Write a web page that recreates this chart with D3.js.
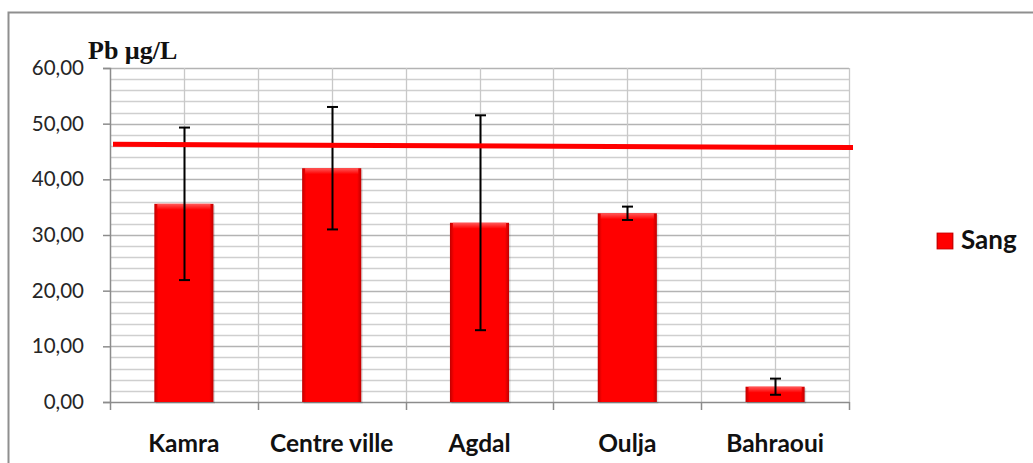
<!DOCTYPE html>
<html>
<head>
<meta charset="utf-8">
<script src="https://cdn.jsdelivr.net/npm/d3@7"></script>
<style>
  body { margin: 0; background: #fff; }
  svg { display: block; }
</style>
</head>
<body>
<div id="chart"></div>
<script>
// data
const sites = ['Kamra', 'Centre ville', 'Agdal', 'Oulja', 'Bahraoui'];
const sangMeans = [35.6, 42.0, 32.2, 33.9, 2.75];
const sangErrors = [13.7, 11.0, 19.3, 1.2, 1.45];
const limitLine = [46.3, 45.7]; // red reference line, left end / right end
const yTicks = [0, 10, 20, 30, 40, 50, 60];
const minorTicks = d3.range(0, 61, 2);

const W = 1033, H = 463;
const plot = { left: 110, right: 849, top: 68, bottom: 402 };

const svg = d3.select('#chart').append('svg')
    .attr('width', W)
    .attr('height', H);

const defs = svg.append('defs');
const grad = defs.append('linearGradient').attr('id', 'barGrad')
    .attr('x1', '0%').attr('x2', '100%').attr('y1', '0%').attr('y2', '0%');
grad.append('stop').attr('offset', '0%').attr('stop-color', '#c00000');
grad.append('stop').attr('offset', '7%').attr('stop-color', '#ff0000');
grad.append('stop').attr('offset', '93%').attr('stop-color', '#ff0000');
grad.append('stop').attr('offset', '100%').attr('stop-color', '#c00000');
const topGrad = defs.append('linearGradient').attr('id', 'topGrad')
    .attr('x1', '0%').attr('x2', '0%').attr('y1', '0%').attr('y2', '100%');
topGrad.append('stop').attr('offset', '0%').attr('stop-color', '#ff5a5a');
topGrad.append('stop').attr('offset', '100%').attr('stop-color', '#ff0000');

// outer frame (only top and left visible in the crop)
svg.append('path')
    .attr('d', `M 8.5 463 L 8.5 12.5 L ${W} 12.5`)
    .attr('fill', 'none')
    .attr('stroke', '#8f8f8f')
    .attr('stroke-width', 2);

const x = d3.scaleBand()
    .domain(sites)
    .range([plot.left, plot.right])
    .padding(0);

const y = d3.scaleLinear()
    .domain([0, 60])
    .range([plot.bottom, plot.top]);

// minor horizontal grid
svg.append('g').selectAll('line')
    .data(minorTicks.filter(d => d % 10 !== 0))
    .join('line')
    .attr('x1', plot.left).attr('x2', plot.right)
    .attr('y1', d => Math.round(y(d)) + 0.5).attr('y2', d => Math.round(y(d)) + 0.5)
    .attr('stroke', '#cfcfcf')
    .attr('stroke-width', 1.3);

// major horizontal grid
svg.append('g').selectAll('line')
    .data(yTicks.filter(d => d > 0))
    .join('line')
    .attr('x1', plot.left).attr('x2', plot.right)
    .attr('y1', d => Math.round(y(d)) + 0.5).attr('y2', d => Math.round(y(d)) + 0.5)
    .attr('stroke', '#b3b3b3')
    .attr('stroke-width', 1.6);

// vertical grid: category boundaries and centres
const vLines = [];
sites.forEach(s => {
    vLines.push(x(s));
    vLines.push(x(s) + x.bandwidth() / 2);
});
vLines.push(plot.right);
svg.append('g').selectAll('line')
    .data(vLines.slice(1))
    .join('line')
    .attr('x1', d => Math.round(d) + 0.5).attr('x2', d => Math.round(d) + 0.5)
    .attr('y1', plot.top).attr('y2', plot.bottom)
    .attr('stroke', '#c8c8c8')
    .attr('stroke-width', 1.3);

// axes
const yAxis = svg.append('g')
    .attr('transform', `translate(${plot.left},0)`)
    .call(d3.axisLeft(y).tickValues(yTicks).tickSize(7).tickPadding(19)
        .tickFormat(d => d3.format('.2f')(d).replace('.', ',')));
yAxis.select('.domain').attr('stroke', '#8c8c8c').attr('stroke-width', 1.5);
yAxis.selectAll('.tick line').attr('stroke', '#8c8c8c').attr('stroke-width', 1.5);
yAxis.selectAll('.tick text')
    .attr('fill', '#262626')
    .style('font-family', 'Lato, "Open Sans", sans-serif')
    .style('font-size', '20.5px');

const xAxis = svg.append('g')
    .attr('transform', `translate(0,${plot.bottom})`)
    .call(d3.axisBottom(x).tickSize(0).tickPadding(33));
xAxis.select('.domain').attr('stroke', '#8c8c8c').attr('stroke-width', 1.5);
xAxis.selectAll('.tick text')
    .attr('fill', '#111')
    .style('font-family', 'Lato, "Open Sans", sans-serif')
    .style('font-weight', 'bold')
    .style('font-size', '24.5px');
// boundary ticks below the axis
xAxis.append('g').selectAll('line')
    .data(sites.map(s => x(s)).concat([plot.right]))
    .join('line')
    .attr('x1', d => Math.round(d) + 0.5).attr('x2', d => Math.round(d) + 0.5)
    .attr('y1', 0).attr('y2', 8)
    .attr('stroke', '#8c8c8c')
    .attr('stroke-width', 1.5);

// bars
const barW = x.bandwidth() * 0.4;
const bars = svg.append('g');
sites.forEach((s, i) => {
    const cx = x(s) + x.bandwidth() / 2;
    const top = y(sangMeans[i]);
    bars.append('rect')
        .attr('x', cx - barW / 2 + 1.5).attr('y', top + 1.5)
        .attr('width', barW).attr('height', plot.bottom - top)
        .attr('fill', '#000').attr('opacity', 0.12);
    bars.append('rect')
        .attr('x', cx - barW / 2).attr('y', top)
        .attr('width', barW).attr('height', plot.bottom - top)
        .attr('fill', 'url(#barGrad)');
    bars.append('rect')
        .attr('x', cx - barW / 2 + 3).attr('y', top)
        .attr('width', barW - 6).attr('height', Math.min(6, plot.bottom - top))
        .attr('fill', 'url(#topGrad)');
});

// error bars
const errG = svg.append('g')
    .attr('stroke', '#000')
    .attr('stroke-width', 2);
sites.forEach((s, i) => {
    const cx = Math.round(x(s) + x.bandwidth() / 2) + 0.5;
    const hi = y(sangMeans[i] + sangErrors[i]);
    const lo = y(sangMeans[i] - sangErrors[i]);
    errG.append('line').attr('x1', cx).attr('x2', cx).attr('y1', hi).attr('y2', lo);
    errG.append('line').attr('x1', cx - 5.5).attr('x2', cx + 5.5).attr('y1', hi).attr('y2', hi);
    errG.append('line').attr('x1', cx - 5.5).attr('x2', cx + 5.5).attr('y1', lo).attr('y2', lo);
});

// red reference line
svg.append('line')
    .attr('x1', plot.left + 3).attr('x2', plot.right + 4)
    .attr('y1', y(limitLine[0])).attr('y2', y(limitLine[1]))
    .attr('stroke', '#ff0000')
    .attr('stroke-width', 5);

// y axis title
svg.append('text')
    .attr('x', 88).attr('y', 59)
    .style('font-family', '"Liberation Serif", "Times New Roman", serif')
    .style('font-weight', 'bold')
    .style('font-size', '26px')
    .attr('fill', '#111')
    .text('Pb µg/L');

// legend
const legend = svg.append('g').attr('transform', 'translate(937,233)');
legend.append('rect')
    .attr('width', 16).attr('height', 16)
    .attr('fill', 'url(#barGrad)')
    .attr('stroke', '#c00000').attr('stroke-width', 0.8);
legend.append('text')
    .attr('x', 24).attr('y', 15.5)
    .style('font-family', 'Lato, "Open Sans", sans-serif')
    .style('font-weight', 'bold')
    .style('font-size', '26px')
    .attr('fill', '#111')
    .text('Sang');
</script>
</body>
</html>
